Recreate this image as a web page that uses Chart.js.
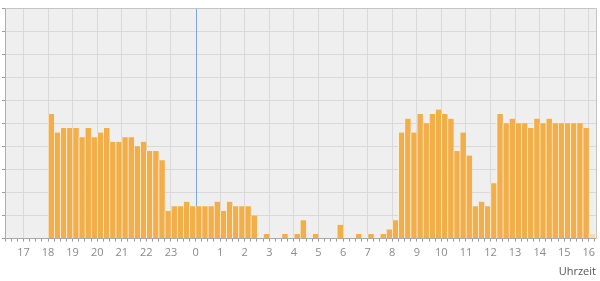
<!DOCTYPE html>
<html>
<head>
<meta charset="utf-8">
<script src="https://cdn.jsdelivr.net/npm/chart.js@4/dist/chart.umd.min.js"></script>
<style>
  html, body { margin: 0; padding: 0; background: #fff; }
  #wrap { width: 600px; height: 281px; }
</style>
</head>
<body>
<div id="wrap"><canvas id="chart"></canvas></div>
<script>
// 15-minute bins, first bin starts yesterday 16:15
const firstBinHour = 16.25
const binHours = 0.25

// counts per bin, yesterday 16:15 .. 23:45
const yesterdayValues = [
  0, 0, 0, 0, 0, 0, 0,          // 16:15 - 17:45
  27, 23, 24, 24,               // 18
  24, 22, 24, 22,               // 19
  23, 24, 21, 21,               // 20
  22, 22, 20, 21,               // 21
  19, 19, 17, 6,                // 22
  7, 7, 8, 7                    // 23
]
// counts per bin, today 00:00 .. 16:00
const todayValues = [
  7, 7, 7, 8,                   // 0
  6, 8, 7, 7,                   // 1
  7, 5, 0, 1,                   // 2
  0, 0, 1, 0,                   // 3
  1, 4, 0, 1,                   // 4
  0, 0, 0, 3,                   // 5
  0, 0, 1, 0,                   // 6
  1, 0, 1, 2,                   // 7
  4, 23, 26, 23,                // 8
  27, 25, 27, 28,               // 9
  27, 26, 19, 23,               // 10
  18, 7, 8, 7,                  // 11
  12, 27, 25, 26,               // 12
  25, 25, 24, 26,               // 13
  25, 26, 25, 25,               // 14
  25, 25, 25, 24,               // 15
  1                             // 16:00 (running bin)
]
const axisMin = 16.25
const axisMax = 40.29
const midnight = 24

const values = yesterdayValues.concat(todayValues)
const points = []
for (var i = 0; i < values.length; i++) {
  points.push({x: firstBinHour + i * binHours + binHours / 2, y: values[i]})
}
const lastIndex = values.length - 1

function isHour(v) {
  return Math.abs(v - Math.round(v)) < 1e-6
}

const areaPlugin = {
  id: 'area',
  beforeDraw(chart) {
    const {ctx, chartArea: a} = chart
    ctx.save()
    ctx.fillStyle = '#efefef'
    ctx.fillRect(a.left, a.top, a.right - a.left, a.bottom - a.top)
    ctx.restore()
  },
  beforeDatasetsDraw(chart) {
    // day change line
    const {ctx, chartArea: a} = chart
    const px = Math.round(chart.scales.x.getPixelForValue(midnight)) + 0.5
    ctx.save()
    ctx.strokeStyle = '#7ea7e0'
    ctx.lineWidth = 1
    ctx.beginPath()
    ctx.moveTo(px, a.top)
    ctx.lineTo(px, a.bottom)
    ctx.stroke()
    ctx.restore()
  },
  afterDraw(chart) {
    const {ctx, chartArea: a} = chart
    ctx.save()
    ctx.strokeStyle = '#c4c4c4'
    ctx.lineWidth = 1
    ctx.beginPath()
    ctx.moveTo(a.left, a.top + 0.5)
    ctx.lineTo(a.right + 0.5, a.top + 0.5)
    ctx.lineTo(a.right + 0.5, a.bottom)
    ctx.stroke()
    ctx.restore()
  }
}

new Chart(document.getElementById('chart'), {
  type: 'bar',
  data: {
    datasets: [{
      data: points,
      backgroundColor: (c) => c.dataIndex === lastIndex ? '#f8dcae' : '#f2ae48',
      borderColor: '#fbf0dc',
      borderWidth: {left: 1, right: 0, top: 0, bottom: 0},
      borderSkipped: false,
      barPercentage: 1,
      categoryPercentage: 1
    }]
  },
  options: {
    responsive: true,
    maintainAspectRatio: false,
    animation: false,
    layout: {padding: {top: 8, right: 4, left: -1.5, bottom: 0}},
    plugins: {legend: {display: false}, tooltip: {enabled: false}},
    scales: {
      x: {
        type: 'linear',
        offset: false,
        min: axisMin,
        max: axisMax,
        grid: {
          offset: false,
          tickLength: 3,
          color: (c) => {
            if (!c.tick) return 'rgba(0,0,0,0)'
            const v = c.tick.value
            if (Math.abs(v - midnight) < 1e-6) return 'rgba(0,0,0,0)'
            if (isHour(v)) return '#d9d9d9'
            return 'rgba(0,0,0,0)'
          },
          tickColor: '#9a9a9a'
        },
        border: {color: '#a9a9a9'},
        ticks: {
          stepSize: 0.25,
          includeBounds: false,
          autoSkip: false,
          maxRotation: 0,
          padding: 5,
          color: '#8a8a8a',
          font: {family: 'Open Sans', size: 11},
          callback: (v) => isHour(v) ? String(Math.round(v) % 24) : ''
        },
        title: {
          display: true,
          text: 'Uhrzeit',
          align: 'end',
          color: '#555',
          font: {family: 'Open Sans', size: 11},
          padding: {top: 0, bottom: 3}
        }
      },
      y: {
        min: 0,
        max: 50,
        grid: {color: '#d9d9d9', tickLength: 3, tickColor: '#9a9a9a'},
        border: {color: '#a9b0b8'},
        ticks: {stepSize: 5, display: false}
      }
    }
  },
  plugins: [areaPlugin]
})
</script>
</body>
</html>
